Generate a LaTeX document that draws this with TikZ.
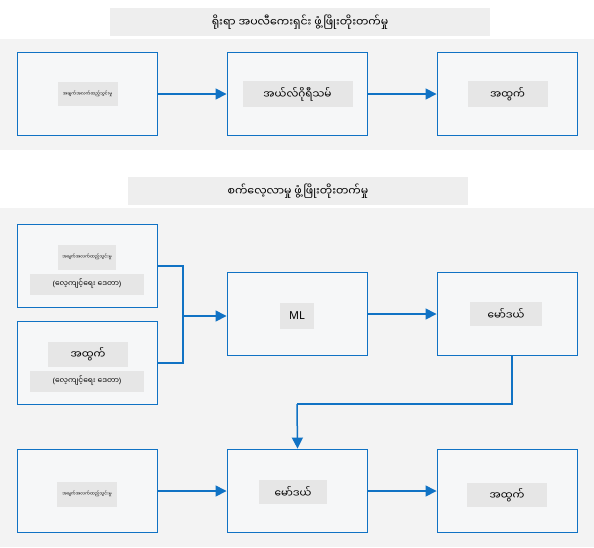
\documentclass[tikz,border=0pt]{standalone}
\usepackage{fontspec}
\setmainfont{Noto Sans}
\newfontfamily\mm[Script=Myanmar]{Noto Sans Myanmar UI}
\newfontfamily\lat{Noto Sans}
\newcommand{\lp}{{\lat (}}
\newcommand{\rp}{{\lat )}}
\usetikzlibrary{arrows.meta}
\definecolor{blu}{RGB}{16,114,196}
\definecolor{panel}{RGB}{243,243,243}
\definecolor{band}{RGB}{238,238,238}
\definecolor{boxfill}{RGB}{246,247,248}
\definecolor{lab}{RGB}{230,230,230}
\tikzset{
  bandbox/.style={fill=band,draw=none,minimum height=28pt,font=\mm\fontsize{11}{13}\selectfont},
  procbox/.style={draw=blu,line width=1.9pt,fill=boxfill,minimum width=140pt,minimum height=83pt},
  labl/.style={fill=lab,inner sep=0pt,font=\mm\fontsize{10.5}{12}\selectfont},
  conn/.style={draw=blu,line width=1.5pt},
  arr/.style={conn,-{Triangle[length=11pt,width=11pt]}}
}
\begin{document}
\begin{tikzpicture}[x=1pt,y=-1pt]
\useasboundingbox (0,0) rectangle (594,547);
\fill[white] (0,0) rectangle (594,547);
% panels
\fill[panel] (0,39) rectangle (594,150);
\fill[panel] (0,208) rectangle (594,547);
% title bands
\node[bandbox,minimum width=380pt] (t1) at (300,22) {ရိုးရာ အပလီကေးရှင်း ဖွံ့ဖြိုးတိုးတက်မှု};
\node[bandbox,minimum width=340pt] (t2) at (298,191) {စက်လေ့လာမှု ဖွံ့ဖြိုးတိုးတက်မှု};
% row 1
\node[procbox] (a) at (87.5,94) {};
\node[procbox] (b) at (297.5,94) {};
\node[procbox] (c) at (507.5,94) {};
\node[labl,minimum width=60pt,minimum height=24pt,font=\mm\fontsize{4.3}{5}\selectfont] (al) at (a) {အချက်အလက်ထည့်သွင်းမှု};
\node[labl,minimum width=110pt,minimum height=26pt] (bl) at (b) {အယ်လ်ဂိုရီသမ်};
\node[labl,minimum width=80pt,minimum height=26pt] (cl) at (c) {အထွက်};
\draw[arr] (a.east) -- (b.west);
\draw[arr] (b.east) -- (c.west);
% ML section
\node[procbox] (d1) at (87.5,266) {};
\node[procbox] (d2) at (87.5,363) {};
\node[labl,minimum width=58pt,minimum height=25pt,font=\mm\fontsize{4.3}{5}\selectfont] (d1a) at (87,257) {အချက်အလက်ထည့်သွင်းမှု};
\node[labl,minimum width=114pt,minimum height=21pt,font=\mm\fontsize{7.5}{9}\selectfont] (d1b) at (87,284) {\lp လေ့ကျင့်ရေး ဒေတာ\rp};
\node[labl,minimum width=80pt,minimum height=25pt] (d2a) at (88,354) {အထွက်};
\node[labl,minimum width=114pt,minimum height=21pt,font=\mm\fontsize{7.5}{9}\selectfont] (d2b) at (87,381) {\lp လေ့ကျင့်ရေး ဒေတာ\rp};
\node[procbox] (ml) at (297.5,314) {};
\node[procbox] (md) at (507.5,314) {};
\node[labl,minimum width=34pt,minimum height=26pt,font=\lat\fontsize{11}{13}\selectfont] (mll) at (297,316) {ML};
\node[labl,minimum width=72pt,minimum height=24pt] (mdl) at (506,314) {မော်ဒယ်};
\coordinate (j1) at (183,266);
\coordinate (j2) at (183,363);
\coordinate (j3) at (183,316);
\draw[conn] (d1.east) -- (j1) -- (j2) -- (d2.east);
\draw[arr] (j3) -- (ml.west |- j3);
\draw[arr] (ml.east) -- (md.west);
% bottom row
\node[procbox] (e) at (87.5,491) {};
\node[procbox] (f) at (297.5,491) {};
\node[procbox] (g) at (507.5,491) {};
\node[labl,minimum width=60pt,minimum height=25pt,font=\mm\fontsize{4.3}{5}\selectfont] (el) at (87,494) {အချက်အလက်ထည့်သွင်းမှု};
\node[labl,minimum width=68pt,minimum height=24pt] (fl) at (293,492) {မော်ဒယ်};
\node[labl,minimum width=80pt,minimum height=24pt] (gl) at (507,495) {အထွက်};
\coordinate (k1) at (512,404);
\coordinate (k2) at (297,404);
\draw[conn] (md.south -| k1) -- (k1) -- (k2);
\draw[arr] (k2) -- (f.north);
\draw[arr] (e.east) -- (f.west);
\draw[arr] (f.east) -- (g.west);
\end{tikzpicture}
\end{document}
